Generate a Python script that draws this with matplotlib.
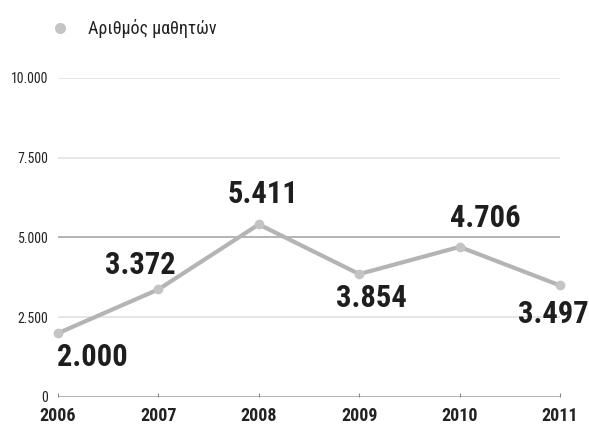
import matplotlib.pyplot as plt

years = ["2006", "2007", "2008", "2009", "2010", "2011"]
students = [2000, 3372, 5411, 3854, 4706, 3497]
labels = ["2.000", "3.372", "5.411", "3.854", "4.706", "3.497"]
yticks = [0, 2500, 5000, 7500, 10000]
ytick_labels = ["0", "2.500", "5.000", "7.500", "10.000"]

# condensed font, close to the original
plt.rcParams["font.family"] = ["Roboto Condensed", "DejaVu Sans"]

fig = plt.figure(figsize=(5.89, 4.25), dpi=100)
ax = fig.add_axes([58 / 589, 28 / 425, 502 / 589, 319 / 425])

x = list(range(len(years)))
ax.plot(x, students, color="#b4b4b4", lw=3, marker="o", ms=6,
        mfc="#c4c4c4", mec="#c4c4c4", clip_on=False, zorder=3,
        solid_capstyle="round")

ax.set_xlim(0, len(years) - 1)
ax.set_ylim(0, 10000)

for v in yticks:
    c = "#a8a8a8" if v in (0, 5000) else "#e2e2e2"
    ax.axhline(v, color=c, lw=1.2, zorder=1)

ax.set_yticks(yticks)
ax.set_yticklabels(ytick_labels, fontsize=10, color="#222222")
ax.set_xticks(x)
ax.set_xticklabels(years, fontsize=13, fontweight="bold", color="#222222")
ax.tick_params(axis="y", length=0, pad=7)
ax.tick_params(axis="x", length=3, color="#888888", direction="in", pad=7)
for s in ax.spines.values():
    s.set_visible(False)

# value labels offsets in pixels
offsets = [(34, -24), (-18, 24), (4, 30), (12, -24), (26, 29), (-7, -29)]
for xi, v, lab, off in zip(x, students, labels, offsets):
    ax.annotate(lab, (xi, v), xytext=off, textcoords="offset pixels",
                ha="center", va="center", fontsize=22, fontweight="bold",
                color="#1e1e1e", annotation_clip=False)

# legend
fig.lines.append(plt.Line2D([60 / 589], [1 - 28 / 425], marker="o", ms=7,
                            color="#c4c4c4", transform=fig.transFigure))
fig.text(88 / 589, 1 - 28 / 425, "Αριθμός μαθητών", fontsize=13,
         va="center", ha="left", color="#222222")

fig.savefig("out.png", dpi=100)
